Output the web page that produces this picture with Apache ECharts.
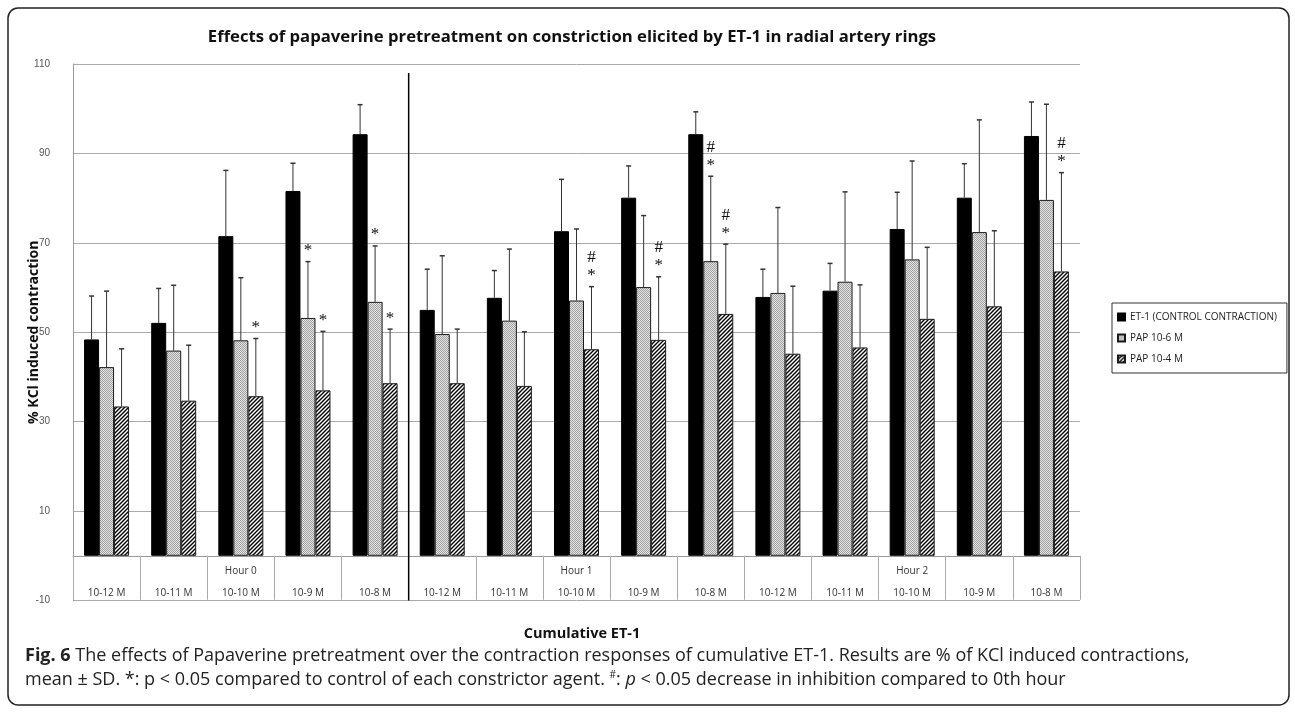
<!DOCTYPE html>
<html><head><meta charset="utf-8">
<script src="https://cdn.jsdelivr.net/npm/echarts@6/dist/echarts.min.js"></script>
<style>html,body{margin:0;padding:0;background:#fff}#c{width:1295px;height:712px}</style>
</head><body><div id="c"></div>
<script>
const categories = ['10-12 M','10-11 M','10-10 M','10-9 M','10-8 M','10-12 M','10-11 M','10-10 M','10-9 M','10-8 M','10-12 M','10-11 M','10-10 M','10-9 M','10-8 M'];
const hourLabels = ['','','Hour 0','','','','','Hour 1','','','','','Hour 2','',''];
const seriesNames = ['ET-1 (CONTROL CONTRACTION)','PAP 10-6 M','PAP 10-4 M'];
const et1Mean  = [48.4,52.1,71.5,81.6,94.3,55.0,57.7,72.6,80.1,94.3,57.9,59.3,73.1,80.1,93.9];
const et1Upper = [58.1,59.8,86.2,87.8,100.9,64.1,63.8,84.2,87.2,99.3,64.1,65.4,81.3,87.7,101.5];
const pap6Mean  = [42.2,45.9,48.2,53.2,56.8,49.6,52.6,57.1,60.1,65.9,58.8,61.3,66.3,72.4,79.6];
const pap6Upper = [59.2,60.5,62.2,65.8,69.3,67.1,68.6,73.1,76.1,84.9,77.9,81.4,88.3,97.5,101.0];
const pap4Mean  = [33.4,34.7,35.7,37.0,38.6,38.6,38.0,46.2,48.3,54.1,45.2,46.6,53.0,55.8,63.6];
const pap4Upper = [46.3,47.1,48.6,50.2,50.7,50.7,50.1,60.2,62.4,69.7,60.3,60.6,69.0,72.7,85.7];
// significance marks: [category index, series index, text]
const marks = [[2,2,'*'],[3,1,'*'],[3,2,'*'],[4,1,'*'],[4,2,'*'],[7,2,'#\n*'],[8,2,'#\n*'],[9,1,'#\n*'],[9,2,'#\n*'],[14,2,'#\n*']];
const dividerAfter = 4; // vertical line after this category index (end of Hour 0 block)
const yMin = -10, yMax = 110, yInterval = 20;

const titleText = 'Effects of papaverine pretreatment on constriction elicited by ET-1 in radial artery rings';
const yName = '% KCl induced contraction';
const xName = 'Cumulative ET-1';

const means = [et1Mean, pap6Mean, pap4Mean];
const uppers = [et1Upper, pap6Upper, pap4Upper];

function makeDots(){
  const c=document.createElement('canvas'); c.width=2; c.height=2;
  const g=c.getContext('2d');
  g.fillStyle='#e4e4e4'; g.fillRect(0,0,2,2);
  g.fillStyle='#a0a0a0'; g.fillRect(0,0,1,1); g.fillRect(1,1,1,1);
  return c;
}
function makeHatch(){
  const s=4; const c=document.createElement('canvas'); c.width=s; c.height=s;
  const g=c.getContext('2d');
  g.fillStyle='#fff'; g.fillRect(0,0,s,s);
  g.strokeStyle='#000'; g.lineWidth=1.4;
  g.beginPath();
  g.moveTo(0,s); g.lineTo(s,0);
  g.moveTo(-1,1); g.lineTo(1,-1);
  g.moveTo(s-1,s+1); g.lineTo(s+1,s-1);
  g.stroke();
  return c;
}
const BW = 15;
const barStyles = [
  {color:'#000', borderColor:'#000', borderWidth:1},
  {color:{image:makeDots(), repeat:'repeat'}, borderColor:'#1a1a1a', borderWidth:1},
  {color:{image:makeHatch(), repeat:'repeat'}, borderColor:'#1a1a1a', borderWidth:1}
];

const series = [];
seriesNames.forEach((n,s)=>{
  series.push({name:n, type:'bar', data:means[s], barWidth:BW, barGap:'0%', itemStyle:barStyles[s], z:2});
});
seriesNames.forEach((n,s)=>{
  series.push({
    type:'custom', coordinateSystem:'cartesian2d', z:3, silent:true,
    data: means[s].map((m,i)=>[i,m,uppers[s][i]]),
    encode:{x:0,y:[1,2]},
    renderItem:function(params, api){
      const i=api.value(0);
      const b=api.coord([i, api.value(1)]);
      const t=api.coord([i, api.value(2)]);
      const x=b[0]+(s-1)*BW;
      return {type:'group', children:[
        {type:'line', shape:{x1:x,y1:b[1],x2:x,y2:t[1]}, style:{stroke:'#333',lineWidth:1}},
        {type:'line', shape:{x1:x-2.5,y1:t[1],x2:x+2.5,y2:t[1]}, style:{stroke:'#333',lineWidth:1.5}}
      ]};
    }
  });
});
// significance marks
series.push({
  type:'custom', coordinateSystem:'cartesian2d', z:4, silent:true,
  data: marks.map(m=>[m[0], uppers[m[1]][m[0]], m[1], m[2]]),
  encode:{x:0,y:1},
  renderItem:function(params, api){
    const m = marks[params.dataIndex];
    const p=api.coord([api.value(0), api.value(1)]);
    const x=p[0]+(m[1]-1)*BW;
    return {type:'text', x:x, y:p[1]-2, style:{text:m[2], textAlign:'center', textVerticalAlign:'bottom', font:'17px "Liberation Serif"', lineHeight:18, fill:'#111'}};
  }
});
// divider line
series.push({
  type:'custom', coordinateSystem:'cartesian2d', z:5, silent:true,
  data:[[dividerAfter, yMax-2, yMin]],
  encode:{x:0,y:[1,2]},
  renderItem:function(params, api){
    const a=api.coord([api.value(0), api.value(1)]);
    const b=api.coord([api.value(0), api.value(2)]);
    const x=a[0]+api.size([1,0])[0]/2;
    return {type:'line', shape:{x1:x,y1:a[1],x2:x,y2:b[1]}, style:{stroke:'#000',lineWidth:1.5}};
  }
});

const chart = echarts.init(document.getElementById('c'), null, {renderer:'canvas'});
chart.setOption({
  animation:false,
  backgroundColor:'#fff',
  grid:{left:73, right:215, top:64, bottom:111.5, containLabel:false},
  legend:{
    data:seriesNames, orient:'vertical', left:1112, top:303, icon:'rect',
    itemWidth:7, itemHeight:7, itemGap:9, padding:[8,10,8,5],
    borderColor:'#333', borderWidth:1,
    textStyle:{fontSize:10, lineHeight:12, color:'#222', fontFamily:'Open Sans'}
  },
  xAxis:{
    type:'category', data:categories,
    axisLine:{onZero:true, lineStyle:{color:'#999'}},
    axisTick:{show:true, length:44, lineStyle:{color:'#aaa'}},
    axisLabel:{interval:0, margin:-40, lineHeight:22, fontSize:10, color:'#333', fontFamily:'Open Sans',
      formatter:function(v,i){return (hourLabels[i]||' ')+'\n'+v;}}
  },
  yAxis:{
    type:'value', min:yMin, max:yMax, interval:yInterval,
    axisLine:{show:true, lineStyle:{color:'#999'}},
    axisTick:{show:false},
    splitLine:{show:true, lineStyle:{color:'#aaa'}},
    axisLabel:{margin:23, fontSize:10, color:'#555', fontFamily:'Liberation Sans'},
    name:yName, nameLocation:'middle', nameGap:32, nameMoveOverlap:false,
    nameTextStyle:{fontWeight:'bold', fontSize:14, color:'#111', fontFamily:'Open Sans'}
  },
  graphic:[
    {type:'rect', shape:{x:8,y:8,width:1281,height:697,r:10}, style:{fill:'none', stroke:'#222', lineWidth:1.5}, z:-1, silent:true},
    {type:'text', x:572, y:37, style:{text:titleText, textAlign:'center', textVerticalAlign:'middle', font:'bold 16.7px "Open Sans"', fill:'#111'}},
    {type:'text', x:582, y:634, style:{text:xName, textAlign:'center', textVerticalAlign:'middle', font:'bold 14.5px "Open Sans"', fill:'#111'}},
    {type:'text', x:25, y:656, style:{
      text:'{b|Fig. 6} The effects of Papaverine pretreatment over the contraction responses of cumulative ET-1. Results are % of KCl induced contractions,',
      textVerticalAlign:'middle', font:'18px "Open Sans"', fill:'#222',
      rich:{b:{fontWeight:'bold', fontSize:18, fontFamily:'Open Sans', fill:'#222'}}}},
    {type:'text', x:25, y:680, style:{
      text:'mean ± SD. *: p < 0.05 compared to control of each constrictor agent. {sup|#}: {i|p} < 0.05 decrease in inhibition compared to 0th hour',
      textVerticalAlign:'middle', font:'18px "Open Sans"', fill:'#222',
      rich:{sup:{fontSize:10, verticalAlign:'top', padding:[0,0,9,0], fontFamily:'Open Sans', fill:'#222'}, i:{fontStyle:'italic', fontSize:18, fontFamily:'Open Sans', fill:'#222'}}}}
  ],
  series:series
});
</script></body></html>
